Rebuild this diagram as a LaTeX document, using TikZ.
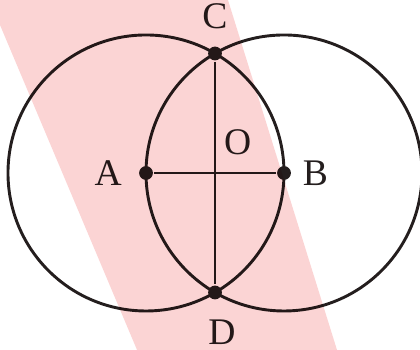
\documentclass[tikz,border=0pt]{standalone}
\usepackage{fontspec}
\setmainfont{Liberation Serif}
\usetikzlibrary{positioning}
\definecolor{rosa}{RGB}{251,212,212}
\definecolor{trazo}{RGB}{36,30,30}

\begin{document}
\begin{tikzpicture}[line width=1.2pt, draw=trazo, text=trazo,
    font=\fontsize{15.5}{18}\selectfont,
    punto/.style={circle, fill=trazo, inner sep=0pt, minimum size=2mm},
    letra/.style={inner sep=0pt}]
  \useasboundingbox (-3.116,-2.565) rectangle (2.971,2.507);

  % Puntos
  \coordinate (O) at (0,0);
  \node[punto] (A) at (-1,0) {};
  \node[punto] (B) at (1,0) {};
  \node[punto] (C) at (0,1.732) {};
  \node[punto] (D) at (0,-1.732) {};

  % Circunferencias de radio AB
  \draw (A.center) circle[radius=2];
  \draw (B.center) circle[radius=2];

  % Segmentos
  \draw (A) -- (B);
  \draw (C) -- (D);

  % Etiquetas
  \node[letra, left=2.1mm of A] (lA) {A};
  \node[letra, right=1.3mm of B] (lB) {B};
  \node[letra, above=2.2mm of C] (lC) {C};
  \node[letra, below=2.5mm of D, xshift=1mm] (lD) {D};
  \node[letra, above right=2.45mm and 1.1mm of O] (lO) {O};

  % Franja sombreada
  \fill[rosa, blend mode=multiply] (-3.116,2.507) -- (0.188,2.507)
        -- (1.768,-2.565) -- (-1.130,-2.565) -- (-3.116,2.145) -- cycle;
\end{tikzpicture}
\end{document}
